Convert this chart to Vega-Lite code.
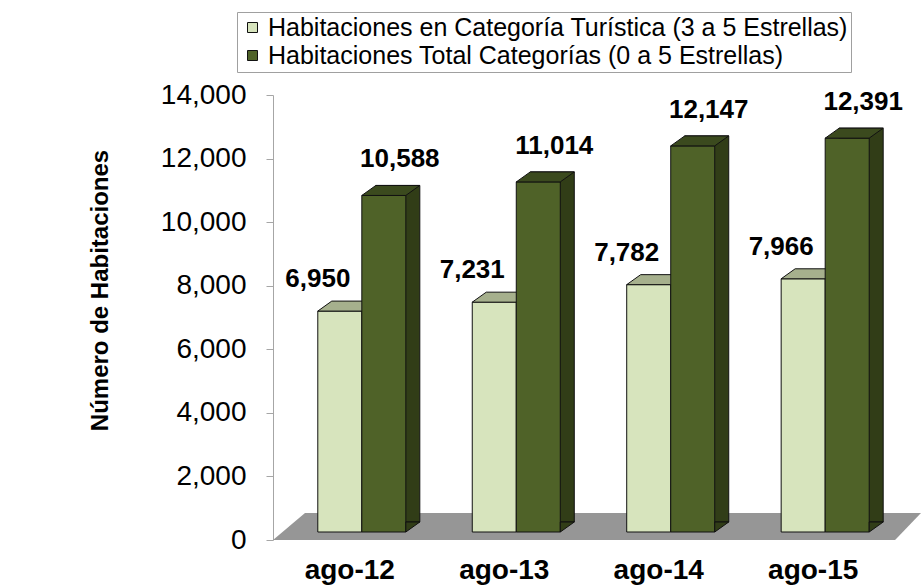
{
  "$schema": "https://vega.github.io/schema/vega-lite/v6.json",
  "width": 641,
  "height": 445,
  "autosize": {"type": "none"},
  "padding": {"left": 273, "top": 95, "right": 7, "bottom": 48},
  "background": "white",
  "config": {"view": {"stroke": null}, "font": "Liberation Sans"},
  "datasets": {
    "habitaciones": [
      {"periodo": "ago-12", "serie": "Habitaciones en Categoría Turística (3 a 5 Estrellas)", "valor": 6950},
      {"periodo": "ago-12", "serie": "Habitaciones Total Categorías (0 a 5 Estrellas)", "valor": 10588},
      {"periodo": "ago-13", "serie": "Habitaciones en Categoría Turística (3 a 5 Estrellas)", "valor": 7231},
      {"periodo": "ago-13", "serie": "Habitaciones Total Categorías (0 a 5 Estrellas)", "valor": 11014},
      {"periodo": "ago-14", "serie": "Habitaciones en Categoría Turística (3 a 5 Estrellas)", "valor": 7782},
      {"periodo": "ago-14", "serie": "Habitaciones Total Categorías (0 a 5 Estrellas)", "valor": 12147},
      {"periodo": "ago-15", "serie": "Habitaciones en Categoría Turística (3 a 5 Estrellas)", "valor": 7966},
      {"periodo": "ago-15", "serie": "Habitaciones Total Categorías (0 a 5 Estrellas)", "valor": 12391}
    ],
    "piso": [{"elemento": "piso"}]
  },
  "layer": [
    {
      "data": {"name": "piso"},
      "mark": {"type": "point", "shape": "M 0 0 L 0.0988 -0.0833 L 2 -0.0833 L 1.92 0 Z", "size": 419904, "filled": true, "fill": "#969696", "opacity": 1, "strokeWidth": 0},
      "encoding": {
        "x": {"value": 0},
        "y": {"datum": 0, "type": "quantitative", "scale": {"domain": [0, 14000], "nice": false}}
      }
    },
    {
      "data": {"name": "habitaciones"},
      "transform": [{"filter": "datum.serie == 'Habitaciones en Categoría Turística (3 a 5 Estrellas)'"}],
      "mark": {"type": "bar", "yOffset": -8, "y2Offset": -8, "stroke": "#111111", "strokeWidth": 1},
      "encoding": {
        "x": {"field": "periodo", "type": "nominal", "sort": null, "scale": {"paddingInner": 0.43, "paddingOuter": 0.29},
          "axis": {"title": null, "domain": false, "ticks": false, "labelAngle": 0, "labelFont": "Liberation Sans", "labelFontWeight": "bold", "labelFontSize": 28, "labelColor": "#000000", "labelPadding": 16, "labelOffset": -12}},
        "xOffset": {"field": "serie", "type": "nominal", "sort": null, "scale": {"domain": ["Habitaciones en Categoría Turística (3 a 5 Estrellas)", "Habitaciones Total Categorías (0 a 5 Estrellas)"], "paddingInner": 0, "paddingOuter": 0}},
        "y": {"field": "valor", "type": "quantitative", "scale": {"domain": [0, 14000], "nice": false},
          "axis": {"title": "Número de Habitaciones", "titleFont": "Liberation Sans", "titleFontSize": 24, "titleFontWeight": "bold", "titleColor": "#000000", "titleX": -173, "titleY": 195, "titleAlign": "center", "titleBaseline": "middle", "values": [0, 2000, 4000, 6000, 8000, 10000, 12000, 14000], "format": ",d", "labelFont": "Liberation Sans", "labelFontSize": 28, "labelColor": "#000000", "labelPadding": 20, "tickSize": 7, "tickColor": "#a6a6a6", "domainColor": "#a6a6a6", "grid": false}},
        "y2": {"datum": 0},
        "color": {"field": "serie", "type": "nominal", "scale": {"domain": ["Habitaciones en Categoría Turística (3 a 5 Estrellas)", "Habitaciones Total Categorías (0 a 5 Estrellas)"], "range": ["#d7e4bd", "#4f6228"]},
          "legend": {"title": null, "orient": "none", "legendX": -36, "legendY": -83, "direction": "vertical", "symbolType": "square", "symbolSize": 100, "symbolStrokeColor": "#000000", "symbolStrokeWidth": 1, "labelFont": "Liberation Sans", "labelFontSize": 25, "labelOffset": 3, "labelColor": "#000000", "labelLimit": 0, "strokeColor": "#a0a0a0", "fillColor": "#ffffff", "padding": 3, "rowPadding": 2}}
      }
    },
    {
      "data": {"name": "habitaciones"},
      "transform": [{"filter": "datum.serie == 'Habitaciones en Categoría Turística (3 a 5 Estrellas)'"}],
      "mark": {"type": "point", "shape": "M -1 0 L 1 0 L 1.636 -0.4545 L -0.364 -0.4545 Z", "size": 1936, "filled": true, "fill": "#a6b08d", "stroke": "#111111", "strokeWidth": 1, "opacity": 1, "yOffset": -8},
      "encoding": {
        "x": {"field": "periodo", "type": "nominal", "sort": null},
        "xOffset": {"field": "serie", "type": "nominal", "sort": null},
        "y": {"field": "valor", "type": "quantitative"}
      }
    },
    {
      "data": {"name": "habitaciones"},
      "transform": [{"filter": "datum.serie == 'Habitaciones Total Categorías (0 a 5 Estrellas)'"}],
      "mark": {"type": "bar", "fill": "#313d17", "stroke": "#111111", "strokeWidth": 1, "width": {"band": 0.5}, "xOffset": 36, "yOffset": -18, "y2Offset": -18},
      "encoding": {
        "x": {"field": "periodo", "type": "nominal", "sort": null},
        "y": {"field": "valor", "type": "quantitative"},
        "y2": {"datum": 0}
      }
    },
    {
      "data": {"name": "habitaciones"},
      "transform": [{"filter": "datum.serie == 'Habitaciones Total Categorías (0 a 5 Estrellas)'"}],
      "mark": {"type": "bar", "yOffset": -8, "y2Offset": -8, "stroke": "#111111", "strokeWidth": 1},
      "encoding": {
        "x": {"field": "periodo", "type": "nominal", "sort": null},
        "xOffset": {"field": "serie", "type": "nominal", "sort": null},
        "y": {"field": "valor", "type": "quantitative"},
        "y2": {"datum": 0},
        "color": {"field": "serie", "type": "nominal"}
      }
    },
    {
      "data": {"name": "habitaciones"},
      "transform": [{"filter": "datum.serie == 'Habitaciones Total Categorías (0 a 5 Estrellas)'"}],
      "mark": {"type": "point", "shape": "M -1 0 L 1 0 L 1.636 -0.4545 L -0.364 -0.4545 Z", "size": 1936, "filled": true, "fill": "#3b4a1e", "stroke": "#111111", "strokeWidth": 1, "opacity": 1, "yOffset": -8},
      "encoding": {
        "x": {"field": "periodo", "type": "nominal", "sort": null},
        "xOffset": {"field": "serie", "type": "nominal", "sort": null},
        "y": {"field": "valor", "type": "quantitative"}
      }
    },
    {
      "data": {"name": "habitaciones"},
      "transform": [{"filter": "datum.serie == 'Habitaciones Total Categorías (0 a 5 Estrellas)'"}],
      "mark": {"type": "point", "shape": "M 1 0 L 1.636 -0.4545 L 1 -0.4545 Z", "size": 1936, "filled": true, "fill": "#313d17", "stroke": "#111111", "strokeWidth": 1, "opacity": 1, "yOffset": -8},
      "encoding": {
        "x": {"field": "periodo", "type": "nominal", "sort": null},
        "xOffset": {"field": "serie", "type": "nominal", "sort": null},
        "y": {"datum": 0}
      }
    },
    {
      "data": {"name": "habitaciones"},
      "transform": [{"filter": "datum.serie == 'Habitaciones en Categoría Turística (3 a 5 Estrellas)'"}],
      "mark": {"type": "text", "font": "Liberation Sans", "fontWeight": "bold", "fontSize": 26, "color": "#000000", "align": "center", "baseline": "middle", "dx": -22, "dy": -40},
      "encoding": {
        "x": {"field": "periodo", "type": "nominal", "sort": null},
        "xOffset": {"field": "serie", "type": "nominal", "sort": null},
        "y": {"field": "valor", "type": "quantitative"},
        "text": {"field": "valor", "type": "quantitative", "format": ",d"}
      }
    },
    {
      "data": {"name": "habitaciones"},
      "transform": [{"filter": "datum.serie == 'Habitaciones Total Categorías (0 a 5 Estrellas)'"}],
      "mark": {"type": "text", "font": "Liberation Sans", "fontWeight": "bold", "fontSize": 26, "color": "#000000", "align": "center", "baseline": "middle", "dx": 16, "dy": -44},
      "encoding": {
        "x": {"field": "periodo", "type": "nominal", "sort": null},
        "xOffset": {"field": "serie", "type": "nominal", "sort": null},
        "y": {"field": "valor", "type": "quantitative"},
        "text": {"field": "valor", "type": "quantitative", "format": ",d"}
      }
    }
  ]
}
